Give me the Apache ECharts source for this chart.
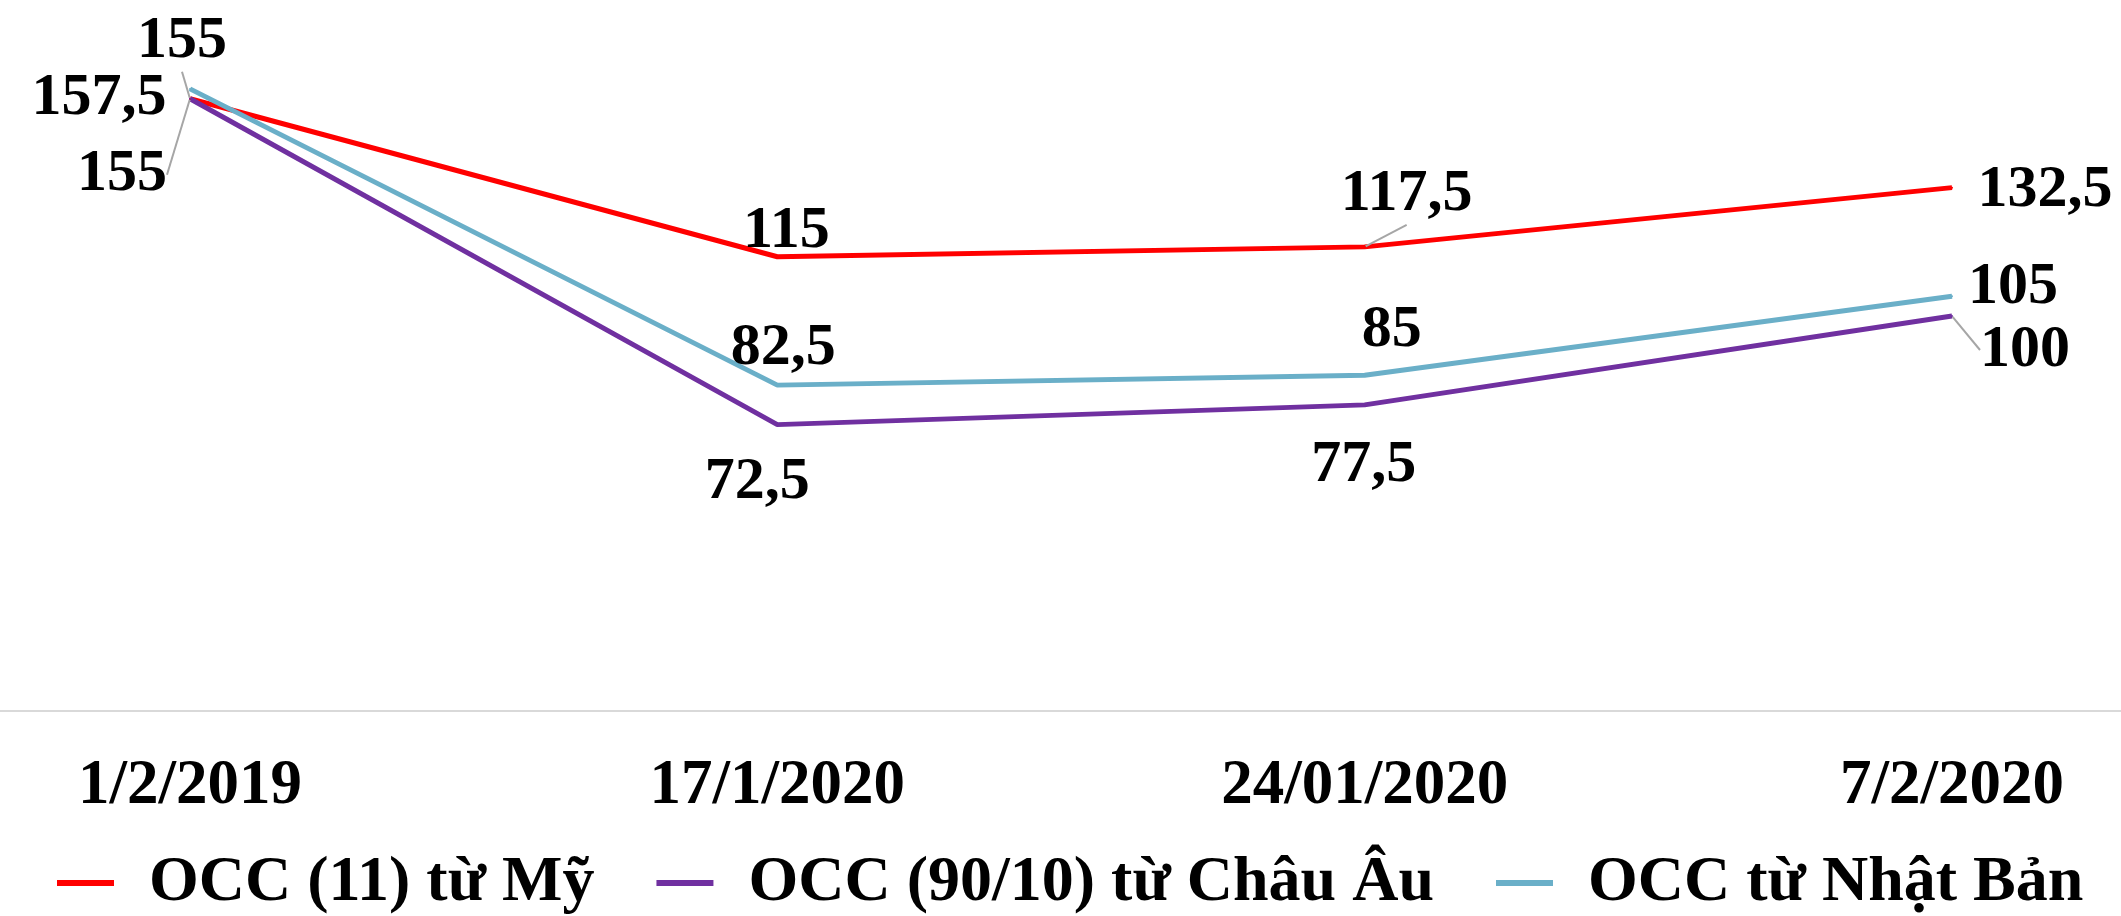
<!DOCTYPE html>
<html>
<head>
<meta charset="utf-8">
<script src="https://cdn.jsdelivr.net/npm/echarts@6/dist/echarts.min.js"></script>
<style>
  html, body { margin: 0; padding: 0; background: #fff; }
  #chart { width: 2121px; height: 916px; }
</style>
</head>
<body>
<div id="chart"></div>
<script>
// Dữ liệu giá OCC
const dates = ['1/2/2019', '17/1/2020', '24/01/2020', '7/2/2020'];
const seriesNames = ['OCC (11) từ Mỹ', 'OCC (90/10) từ Châu Âu', 'OCC từ Nhật Bản'];
const occMy = [155, 115, 117.5, 132.5];
const occChauAu = [155, 72.5, 77.5, 100];
const occNhatBan = [157.5, 82.5, 85, 105];

// vị trí nhãn (tâm nhãn so với điểm) và đường dẫn
const labelPos = [
    [[-8, -57], [9, -25], [42, -52], [93, 3]],
    [[-68, 76], [-20, 58], [-1, 61], [73, 34]],
    [[-91, 10], [6, -37], [27, -45], [61, -9]]
];
const leaderLines = [
    [true, false, true, false],
    [true, false, false, true],
    [false, false, false, false]
];
const colors = ['#ff0000', '#7030a0', '#6aafc8'];
const fontFamily = '"Liberation Serif", "Times New Roman", serif';

window.addEventListener('DOMContentLoaded', function() {
    const myChart = echarts.init(document.getElementById('chart'));
    const allData = [occMy, occChauAu, occNhatBan];

    const series = allData.map(function(values, s) {
        return {
            name: seriesNames[s],
            type: 'line',
            data: values.map(function(v, i) {
                return {
                    value: v,
                    labelLine: { show: leaderLines[s][i] }
                };
            }),
            symbol: 'circle',
            symbolSize: 2,
            showSymbol: true,
            itemStyle: { color: colors[s] },
            lineStyle: { width: 5, color: colors[s] },
            label: {
                show: true,
                position: 'top',
                fontFamily: fontFamily,
                fontWeight: 'bold',
                fontSize: 60,
                color: '#000',
                formatter: function(p) {
                    return String(p.value).replace('.', ',');
                }
            },
            labelLine: {
                lineStyle: { color: '#a6a6a6', width: 2 }
            },
            labelLayout: function(params) {
                const cx = params.rect.x + params.rect.width / 2;
                const cy = params.rect.y + params.rect.height / 2;
                const off = labelPos[s][params.dataIndex];
                return {
                    x: cx + off[0],
                    y: cy + off[1],
                    align: 'center',
                    verticalAlign: 'middle'
                };
            },
            emphasis: { disabled: true }
        };
    });

    const option = {
        animation: false,
        legend: {
            data: seriesNames,
            left: 57,
            top: 851,
            padding: 0,
            icon: 'rect',
            itemWidth: 57,
            itemHeight: 6,
            itemGap: 62,
            textStyle: {
                fontFamily: fontFamily,
                fontWeight: 'bold',
                fontSize: 64,
                color: '#000',
                padding: [0, 0, 0, 30]
            }
        },
        grid: [
            { left: 190, right: 169, top: 79, bottom: 205 },
            { left: 0, right: 0, top: 79, bottom: 205 }
        ],
        xAxis: [
            {
                type: 'category',
                data: dates,
                boundaryGap: false,
                gridIndex: 0,
                axisLine: { show: false },
                axisTick: { show: false },
                axisLabel: {
                    fontFamily: fontFamily,
                    fontWeight: 'bold',
                    fontSize: 63,
                    color: '#000',
                    margin: 44
                }
            },
            {
                // đường trục kéo dài toàn bộ chiều rộng
                type: 'category',
                data: [''],
                gridIndex: 1,
                axisLine: { lineStyle: { color: '#d9d9d9', width: 2 } },
                axisTick: { show: false },
                axisLabel: { show: false }
            }
        ],
        yAxis: [
            { type: 'value', min: 0, max: 160, show: false, gridIndex: 0 },
            { type: 'value', min: 0, max: 160, show: false, gridIndex: 1 }
        ],
        series: series
    };

    myChart.setOption(option);
});
</script>
</body>
</html>
